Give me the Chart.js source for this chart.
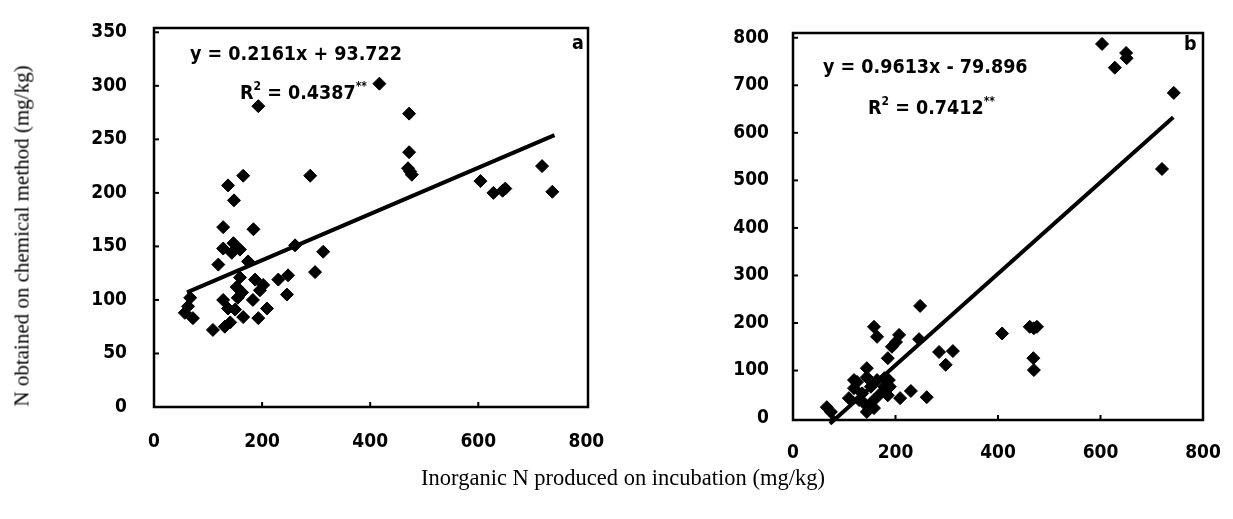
<!DOCTYPE html>
<html>
<head>
<meta charset="utf-8">
<script src="https://cdn.jsdelivr.net/npm/chart.js@4.4.1/dist/chart.umd.min.js"></script>
<style>
  html,body{margin:0;padding:0;background:#fff}
  #wrap{position:relative;width:1233px;height:519px;overflow:hidden}
  canvas{position:absolute;top:0}
  .txt{position:absolute;white-space:nowrap;color:#000}
  .eq{font-family:'Liberation Sans Narrow','DejaVu Sans Condensed',sans-serif;font-weight:bold;font-size:19.5px}
  .eq sup{font-size:12px;vertical-align:9px;line-height:0}
  .ttl{font-family:'Liberation Serif','DejaVu Serif',serif;font-size:21px}
</style>
</head>
<body>
<div id="wrap">
  <canvas id="chart-a" style="left:0"></canvas>
  <canvas id="chart-b" style="left:620px"></canvas>
  <div class="txt eq" style="left:190px;top:42px">y = 0.2161x + 93.722</div>
  <div class="txt eq" style="left:240px;top:81px">R<sup>2</sup> = 0.4387<sup>**</sup></div>
  <div class="txt eq" style="left:572px;top:31px">a</div>
  <div class="txt eq" style="left:823px;top:55px">y = 0.9613x - 79.896</div>
  <div class="txt eq" style="left:868px;top:96px">R<sup>2</sup> = 0.7412<sup>**</sup></div>
  <div class="txt eq" style="left:1184px;top:32px">b</div>
  <div class="txt ttl" style="left:22px;top:236px;transform:translate(-50%,-50%) rotate(-90deg)">N obtained on chemical method (mg/kg)</div>
  <div class="txt ttl" style="left:623px;top:478px;font-size:22.5px;transform:translate(-50%,-50%)">Inorganic N produced on incubation (mg/kg)</div>
</div>
<script>
'use strict';

// panel a — inorganic N (x) vs chemical N (y)
const aX = [137,165,148,193,289,417,472,472,470,477,474,604,628,650,645,718,737,
  128,184,128,147,159,144,261,313,119,174,298,248,230,187,202,196,159,153,163,155,246,
  67,63,57,72,128,183,137,150,209,165,141,193,131,109];
const aY = [207,216,193,281,216,302,274,238,223,217,220,211,200,204,202,225,201,
  168,166,148,153,147,144,151,145,133,136,126,123,119,119,114,109,121,112,107,102,105,
  102,94,88,83,100,100,92,91,92,84,79,83,75,72];
const aLineX = [61, 741];
const aLineY = [107, 254];
const aXTicks = [0, 200, 400, 600, 800];
const aYTicks = [0, 50, 100, 150, 200, 250, 300, 350];

// panel b
const bX = [603,650,651,628,743,720,470,476,462,469,470,408,
  248,158,164,207,201,193,185,246,285,312,298,144,230,209,261,185,66,74,80,
  144,125,119,109,135,148,139,158,152,164,178,187,189,178,171,144,158,129,119];
const bY = [787,768,757,737,684,524,189,192,192,126,101,178,
  236,192,171,175,160,150,126,166,139,141,112,105,57,42,44,48,23,13,-8,
  86,76,63,42,52,24,31,38,66,80,84,80,66,66,52,13,21,38,80];
const bLineX = [72, 742];
const bLineY = [-12, 633];
const bXTicks = [0, 200, 400, 600, 800];
const bYTicks = [0, 100, 200, 300, 400, 500, 600, 700, 800];

const tickFont = {family:"'Liberation Sans Narrow','DejaVu Sans Condensed',sans-serif", weight:'bold', size:19};

// box + inward tick marks
const framePlugin = {
  id:'frame',
  afterDraw(chart){
    const {ctx, chartArea:a, scales} = chart;
    ctx.save();
    ctx.strokeStyle = '#000';
    ctx.lineWidth = 2.5;
    ctx.strokeRect(a.left, a.top, a.right-a.left, a.bottom-a.top);
    ctx.lineWidth = 2;
    scales.x.ticks.forEach(t=>{
      const px = scales.x.getPixelForValue(t.value);
      if (px<=a.left+2 || px>=a.right-2) return;
      ctx.beginPath(); ctx.moveTo(px, a.bottom); ctx.lineTo(px, a.bottom-5); ctx.stroke();
    });
    scales.y.ticks.forEach(t=>{
      const py = scales.y.getPixelForValue(t.value);
      if (py<=a.top+2 || py>=a.bottom-2) return;
      ctx.beginPath(); ctx.moveTo(a.left, py); ctx.lineTo(a.left+5, py); ctx.stroke();
    });
    ctx.restore();
  }
};

function makePanel(id, w, pts, line, xr, yr, xt, yt, lay){
  const el = document.getElementById(id);
  el.width = w; el.height = 519;
  el.style.width = w+'px'; el.style.height = '519px';
  return new Chart(el, {
    type:'scatter',
    data:{datasets:[
      {data:pts.x.map((v,i)=>({x:v,y:pts.y[i]})), pointStyle:'rectRot', pointRadius:6.5,
       backgroundColor:'#000', borderColor:'#000', borderWidth:1},
      {type:'line', data:line.x.map((v,i)=>({x:v,y:line.y[i]})), borderColor:'#000', borderWidth:4,
       pointRadius:0, fill:false, clip:false}
    ]},
    options:{
      responsive:false, animation:false, events:[],
      layout:{padding:{left:0, top:lay.top, right:lay.right, bottom:0}},
      plugins:{legend:{display:false}, tooltip:{enabled:false}},
      scales:{
        x:{type:'linear', min:xr[0], max:xr[1], grid:{display:false}, border:{display:false},
           afterBuildTicks:s=>{s.ticks = xt.map(v=>({value:v}));},
           afterFit:s=>{s.height = lay.xh; s.paddingLeft = 0; s.paddingRight = 0;},
           ticks:{color:'#000', font:tickFont, padding:lay.xpad, maxRotation:0}},
        y:{type:'linear', min:yr[0], max:yr[1], grid:{display:false}, border:{display:false},
           afterBuildTicks:s=>{s.ticks = yt.map(v=>({value:v}));},
           afterFit:s=>{s.width = lay.yw; s.paddingTop = 0; s.paddingBottom = 0;},
           ticks:{color:'#000', font:tickFont, padding:lay.ypad}}
      }
    },
    plugins:[framePlugin]
  });
}

makePanel('chart-a', 620, {x:aX, y:aY}, {x:aLineX, y:aLineY}, [0,803], [0,354], aXTicks, aYTicks,
  {top:28, right:32, xh:112, yw:154, xpad:16, ypad:19});
makePanel('chart-b', 613, {x:bX, y:bY}, {x:bLineX, y:bLineY}, [0,800], [-4,810], bXTicks, bYTicks,
  {top:33, right:30, xh:99, yw:173, xpad:14, ypad:16});
</script>
</body>
</html>
